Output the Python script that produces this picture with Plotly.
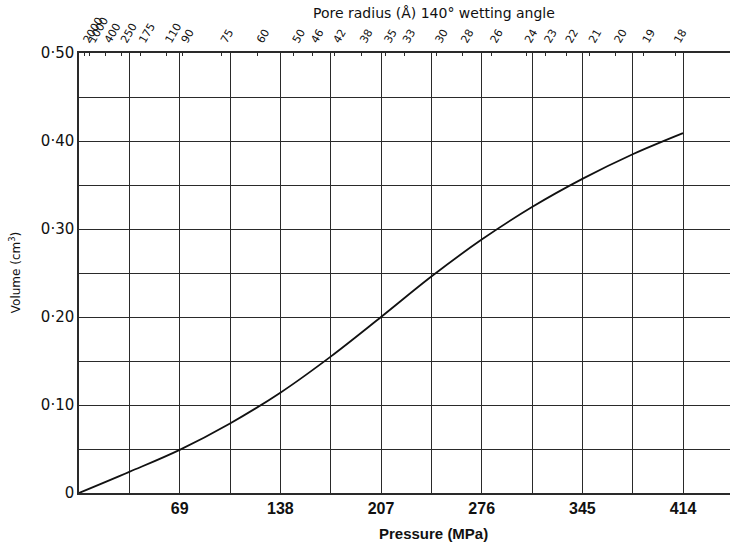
import plotly.graph_objects as go

# mercury intrusion curve
pressure = [0, 34.5, 69, 103.5, 138, 172.5, 207, 241.5, 276, 310.5, 345, 379.5, 414]
volume = [0, 0.024, 0.049, 0.079, 0.114, 0.155, 0.200, 0.246, 0.288, 0.325, 0.357, 0.385, 0.409]

# bottom axis
x_grid = [34.5 * i for i in range(13)]
x_labels = [" ", " ", "69", " ", "138", " ", "207", " ", "276", " ", "345", " ", "414"]

# left axis
y_grid = [0.05 * i for i in range(11)]
y_labels = ["0", " ", "0·10", " ", "0·20", " ", "0·30", " ", "0·40", " ", "0·50"]

# top axis: pore radius labels and the pressure where each sits
pore_radius = ["2000", "1000", "400", "250", "175", "110", "90", "75", "60", "50", "46", "42",
               "38", "35", "33", "30", "28", "26", "24", "23", "22", "21", "20", "19", "18"]
pore_pressure = [3.7, 7.4, 18.4, 29.4, 42.0, 60.0, 71.0, 98.0, 122.6, 147.1, 159.9, 175.1,
                 193.5, 210.1, 222.8, 245.1, 262.6, 282.8, 306.4, 319.7, 334.3, 350.2, 367.7, 387.1, 408.6]

x_max = 446.2
ink = "#2a2a2a"

fig = go.Figure()
fig.add_trace(go.Scatter(x=pressure, y=volume, mode="lines",
                         line=dict(color="#111111", width=1.8, shape="spline", smoothing=1.0),
                         showlegend=False, hoverinfo="skip"))
# invisible trace so the top axis is drawn
fig.add_trace(go.Scatter(x=[0, x_max], y=[0, 0], xaxis="x2", mode="lines",
                         line=dict(width=0), showlegend=False, hoverinfo="skip"))

fig.update_layout(
    width=730, height=547,
    margin=dict(l=79, r=0, t=53, b=54),
    paper_bgcolor="white", plot_bgcolor="white",
    xaxis=dict(range=[0, x_max], tickvals=x_grid, ticktext=x_labels, automargin=False,
               showgrid=True, gridcolor=ink, gridwidth=1,
               showline=True, linecolor=ink, linewidth=1.5,
               ticks="", zeroline=False,
               tickfont=dict(family="Liberation Sans", size=16, color="#111111", weight="bold")),
    xaxis2=dict(range=[0, x_max], overlaying="x", side="top", automargin=False,
                tickvals=pore_pressure, ticktext=pore_radius, tickangle=-60,
                showgrid=False, showline=True, linecolor=ink, linewidth=1.5,
                ticks="inside", ticklen=3, tickcolor=ink, zeroline=False,
                tickfont=dict(family="DejaVu Sans", size=11, color="#111111")),
    yaxis=dict(range=[0, 0.5], tickvals=y_grid, ticktext=y_labels, automargin=False,
               showgrid=True, gridcolor=ink, gridwidth=1,
               showline=True, linecolor=ink, linewidth=1.5,
               ticks="", zeroline=False,
               tickfont=dict(family="DejaVu Sans", size=15, color="#111111")),
    annotations=[
        dict(text="Pore radius (Å) 140° wetting angle", xref="paper", yref="paper",
             x=0.545, y=1.091, xanchor="center", yanchor="middle", showarrow=False,
             font=dict(family="DejaVu Sans", size=14, color="#111111")),
        dict(text="<b>Pressure (MPa)</b>", xref="paper", yref="paper",
             x=0.545, y=-0.091, xanchor="center", yanchor="middle", showarrow=False,
             font=dict(family="Liberation Sans", size=15, color="#111111")),
        dict(text="Volume (cm<sup>3</sup>)", xref="paper", yref="paper",
             x=-0.098, y=0.5, xanchor="center", yanchor="middle", textangle=-90, showarrow=False,
             font=dict(family="DejaVu Sans", size=12, color="#111111")),
    ],
)

# drop the page's default 8px body margin so the figure sits at the window corner
fig.write_html("out.html", config={"displayModeBar": False},
               post_script="document.body.style.margin='0';")
